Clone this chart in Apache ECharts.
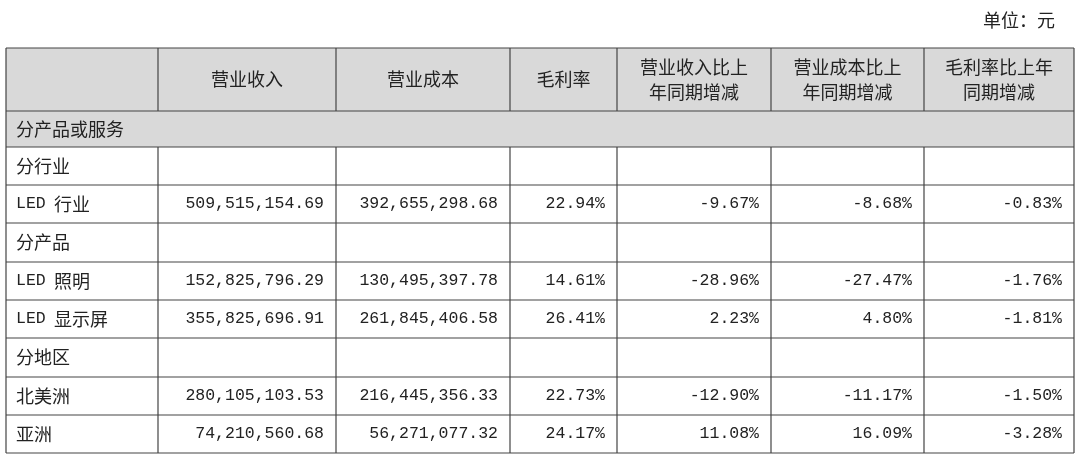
<!DOCTYPE html>
<html>
<head>
<meta charset="utf-8">
<script src="https://cdn.jsdelivr.net/npm/echarts@6/dist/echarts.min.js"></script>
<style>html,body{margin:0;padding:0;background:#fff}#main{width:1080px;height:461px}</style>
</head>
<body>
<div id="main"></div>
<script>
// 表头
var headers = ['', '营业收入', '营业成本', '毛利率', '营业收入比上\n年同期增减', '营业成本比上\n年同期增减', '毛利率比上年\n同期增减'];
// 行名
var rowNames = ['分行业', 'LED 行业', '分产品', 'LED 照明', 'LED 显示屏', '分地区', '北美洲', '亚洲'];
// 各列数值（空串为分组行）
var revenue = ['', '509,515,154.69', '', '152,825,796.29', '355,825,696.91', '', '280,105,103.53', '74,210,560.68'];
var cost = ['', '392,655,298.68', '', '130,495,397.78', '261,845,406.58', '', '216,445,356.33', '56,271,077.32'];
var margin = ['', '22.94%', '', '14.61%', '26.41%', '', '22.73%', '24.17%'];
var revYoy = ['', '-9.67%', '', '-28.96%', '2.23%', '', '-12.90%', '11.08%'];
var costYoy = ['', '-8.68%', '', '-27.47%', '4.80%', '', '-11.17%', '16.09%'];
var marginYoy = ['', '-0.83%', '', '-1.76%', '-1.81%', '', '-1.50%', '-3.28%'];

var colX = [6, 158, 336, 510, 617, 771, 924, 1074];
var rowY = [48, 111, 147, 185, 223, 262, 300, 338, 377, 415, 453];
var font = '18px "Noto Sans CJK SC", serif';
var numFont = '16.5px "Liberation Mono", "Noto Sans CJK SC", monospace';
var lineColor = '#444';

var chart = echarts.init(document.getElementById('main'));
var els = [];

// 表头和分组行底色
els.push({ type: 'rect', shape: { x: colX[0], y: rowY[0], width: colX[7] - colX[0], height: rowY[2] - rowY[0] }, style: { fill: '#d9d9d9' } });

// 横线
rowY.forEach(function (y) {
    els.push({ type: 'line', shape: { x1: colX[0], y1: y, x2: colX[7], y2: y }, style: { stroke: lineColor, lineWidth: 1.2 } });
});
// 竖线（分产品或服务一行只有外框）
colX.forEach(function (x, i) {
    if (i === 0 || i === 7) {
        els.push({ type: 'line', shape: { x1: x, y1: rowY[0], x2: x, y2: rowY[10] }, style: { stroke: lineColor, lineWidth: 1.2 } });
    } else {
        els.push({ type: 'line', shape: { x1: x, y1: rowY[0], x2: x, y2: rowY[1] }, style: { stroke: lineColor, lineWidth: 1.2 } });
        els.push({ type: 'line', shape: { x1: x, y1: rowY[2], x2: x, y2: rowY[10] }, style: { stroke: lineColor, lineWidth: 1.2 } });
    }
});

// 表头文字
headers.forEach(function (h, i) {
    if (!h) return;
    els.push({ type: 'text', x: (colX[i] + colX[i + 1]) / 2, y: (rowY[0] + rowY[1]) / 2,
        style: { text: h, font: font, fill: '#222', align: 'center', verticalAlign: 'middle', lineHeight: 25 } });
});
els.push({ type: 'text', x: colX[0] + 10, y: (rowY[1] + rowY[2]) / 2,
    style: { text: '分产品或服务', font: font, fill: '#222', align: 'left', verticalAlign: 'middle' } });
els.push({ type: 'text', x: 1055, y: 20,
    style: { text: '单位：元', font: font, fill: '#222', align: 'right', verticalAlign: 'middle' } });

// 数据行
var cols = [revenue, cost, margin, revYoy, costYoy, marginYoy];
rowNames.forEach(function (name, r) {
    var cy = (rowY[r + 2] + rowY[r + 3]) / 2;
    var m = name.match(/^LED (.*)$/);
    if (m) {
        els.push({ type: 'text', x: colX[0] + 10, y: cy, style: { text: 'LED', font: numFont, fill: '#222', align: 'left', verticalAlign: 'middle' } });
        els.push({ type: 'text', x: colX[0] + 48, y: cy, style: { text: m[1], font: font, fill: '#222', align: 'left', verticalAlign: 'middle' } });
    } else {
        els.push({ type: 'text', x: colX[0] + 10, y: cy, style: { text: name, font: font, fill: '#222', align: 'left', verticalAlign: 'middle' } });
    }
    cols.forEach(function (col, c) {
        if (!col[r]) return;
        els.push({ type: 'text', x: colX[c + 2] - 12, y: cy, style: { text: col[r], font: numFont, fill: '#222', align: 'right', verticalAlign: 'middle' } });
    });
});

chart.setOption({ animation: false, graphic: { elements: els } });
</script>
</body>
</html>
